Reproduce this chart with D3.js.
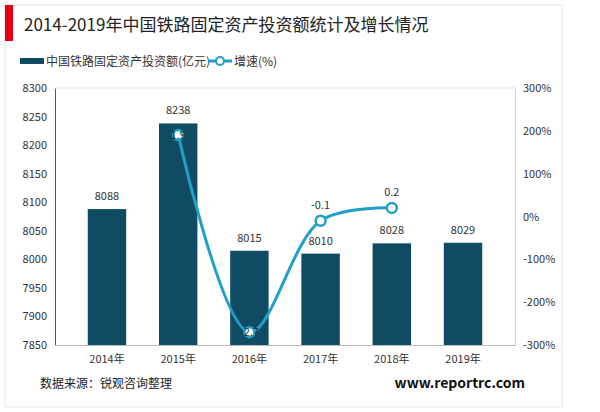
<!DOCTYPE html><html><head><meta charset="utf-8"><script src="https://cdn.jsdelivr.net/npm/d3@7"></script>
<style>body{margin:0;background:#fff}text{font-family:"Noto Sans CJK SC",Arial,sans-serif}</style></head><body><svg id="c" width="600" height="412"></svg>
<script>
const categories=["2014年","2015年","2016年","2017年","2018年","2019年"];
const investment=[8088,8238,8015,8010,8028,8029];
const growthYears=["2015年","2016年","2017年","2018年"];
const growth=[1.9,-2.7,-0.1,0.2];
const leftTicks=[7850,7900,7950,8000,8050,8100,8150,8200,8250,8300];
const rightTicks=[-300,-200,-100,0,100,200,300];
const svg=d3.select("#c");
const L=55,R=515,T=88,B=345;
svg.append("rect").attr("x",5).attr("y",5).attr("width",557).attr("height",402).attr("fill","none").attr("stroke","#e6e6e6");
svg.append("rect").attr("x",5).attr("y",5).attr("width",8).attr("height",36).attr("fill","#e60012");
svg.append("text").attr("x",24).attr("y",31).attr("font-size",17).attr("fill","#222").text("2014-2019年中国铁路固定资产投资额统计及增长情况");
const x=d3.scaleBand().domain(categories).range([L,R]).padding(0.46);
const y=d3.scaleLinear().domain([7850,8300]).range([B,T]);
const y2=d3.scaleLinear().domain([-300,300]).range([B,T]);
svg.append("g").attr("transform",`translate(${L},0)`).call(d3.axisLeft(y).tickValues(leftTicks).tickSize(0).tickPadding(8).tickFormat(d3.format("d"))).call(g=>{g.select(".domain").attr("stroke","#555");g.selectAll("text").attr("font-size",11).attr("fill","#333")});
svg.append("g").attr("transform",`translate(${R},0)`).call(d3.axisRight(y2).tickValues(rightTicks).tickSize(0).tickPadding(8).tickFormat(d=>d+"%")).call(g=>{g.select(".domain").attr("stroke","#ccc");g.selectAll("text").attr("font-size",11).attr("fill","#333")});
svg.append("line").attr("x1",L).attr("x2",R).attr("y1",T).attr("y2",T).attr("stroke","#ddd");
svg.append("g").attr("transform",`translate(0,${B})`).call(d3.axisBottom(x).tickSize(0).tickPadding(10)).call(g=>{g.select(".domain").attr("stroke","#bbb");g.selectAll("text").attr("font-size",11).attr("fill","#333")});
svg.selectAll(".bar").data(investment).join("rect").attr("x",(d,i)=>x(categories[i])).attr("width",x.bandwidth()).attr("y",d=>y(d)).attr("height",d=>B-y(d)).attr("fill","#0f4c63");
svg.selectAll(".bl").data(investment).join("text").attr("x",(d,i)=>x(categories[i])+x.bandwidth()/2).attr("y",d=>y(d)-9).attr("text-anchor","middle").attr("font-size",11).attr("fill","#333").text(d=>d);
const px=d=>x(d)+x.bandwidth()/2;
const pts=growth.map((g,i)=>[px(growthYears[i]),y2(g*100)]);
svg.append("path").attr("d",d3.line().curve(d3.curveCatmullRom)(pts)).attr("fill","none").attr("stroke","#20a0c8").attr("stroke-width",3);
svg.selectAll(".pt").data(pts).join("circle").attr("cx",d=>d[0]).attr("cy",d=>d[1]).attr("r",5).attr("fill","#fff").attr("stroke","#20a0c8").attr("stroke-width",2.5);
svg.selectAll(".gl").data(growth).join("text").attr("x",(d,i)=>pts[i][0]).attr("y",(d,i)=>i<2?pts[i][1]+4:pts[i][1]-12).attr("text-anchor","middle").attr("font-size",11).attr("fill","#333").text(d=>d);
const lg=svg.append("g");
lg.append("rect").attr("x",20).attr("y",58).attr("width",24).attr("height",6).attr("fill","#0f4c63");
lg.append("text").attr("x",46).attr("y",66).attr("font-size",12).attr("fill","#333").text("中国铁路固定资产投资额(亿元)");
lg.append("line").attr("x1",208).attr("x2",232).attr("y1",61).attr("y2",61).attr("stroke","#20a0c8").attr("stroke-width",3);
lg.append("circle").attr("cx",220).attr("cy",61).attr("r",4).attr("fill","#fff").attr("stroke","#20a0c8").attr("stroke-width",2);
lg.append("text").attr("x",234).attr("y",66).attr("font-size",12).attr("fill","#333").text("增速(%)");
svg.append("text").attr("x",40).attr("y",388).attr("font-size",12).attr("fill","#222").text("数据来源：锐观咨询整理");
svg.append("text").attr("x",525).attr("y",388).attr("text-anchor","end").attr("font-size",14).attr("font-weight","bold").attr("fill","#111").text("www.reportrc.com");
</script></body></html>
